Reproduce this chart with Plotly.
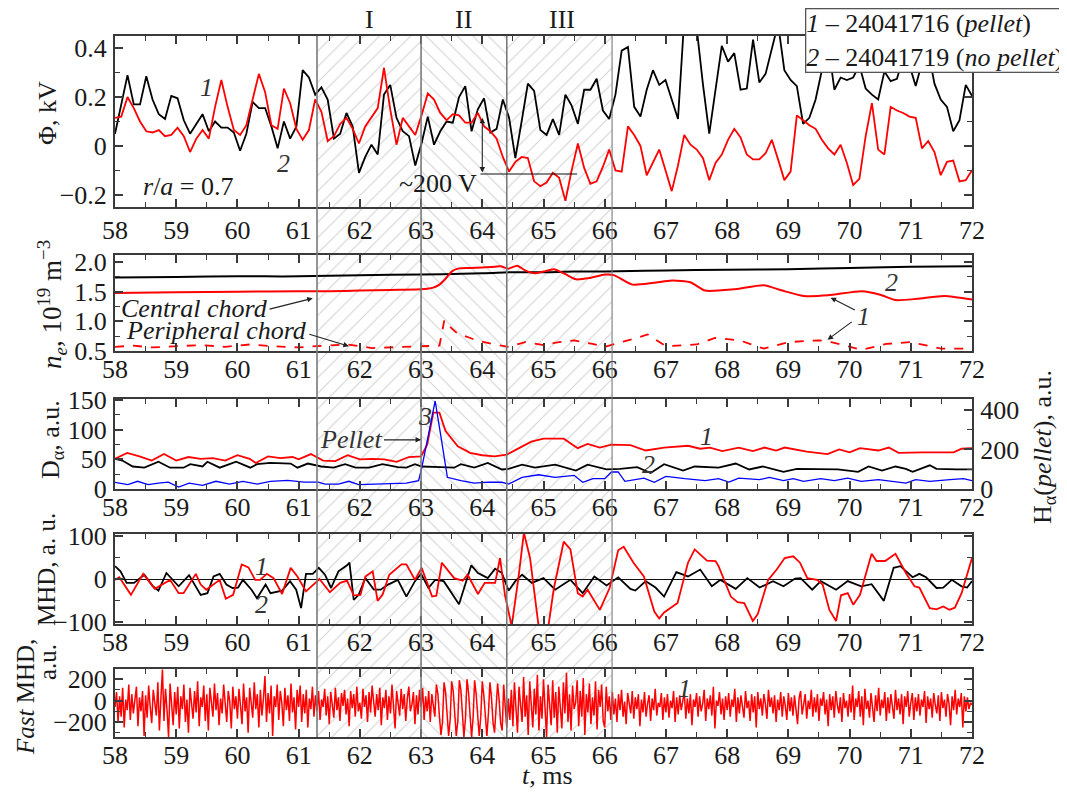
import numpy as np
import plotly.graph_objects as go

# ---------------- data ----------------
REGION_EDGES = [61.3, 63.0, 64.4, 66.12]
REGION_NAMES = ["I", "II", "III"]
REGION_LABEL_T = [62.15, 63.7, 65.3]
HATCH_SHAPES = ["/", "\\", "/"]
X_TICKS = [58, 72]

# Panel 1: plasma potential, kV (1 = pellet, red; 2 = no pellet, black)
PHI_PELLET = [
    0.115, 0.12, 0.20, 0.155, 0.10, 0.06, 0.055, 0.065, 0.04, 0.045,
    0.075, 0.04, -0.025, 0.03, 0.065, 0.03, 0.16, 0.27, 0.16, 0.065,
    0.045, 0.085, 0.19, 0.295, 0.22, 0.085, 0.07, 0.235, 0.175, 0.07,
    0.025, 0.065, 0.19, 0.14, 0.02, 0.04, 0.09, 0.115, 0.07, 0.01,
    0.08, 0.12, 0.155, 0.32, 0.15, 0.005, 0.115, 0.08, 0.045, 0.125,
    0.215, 0.19, 0.135, 0.105, 0.13, 0.125, 0.095, 0.095, 0.135, 0.08,
    0.06, 0.03, -0.045, -0.105, -0.065, -0.045, -0.05,
    -0.145, -0.165, -0.15, -0.11, -0.13, -0.225, -0.10, 0.01, -0.09, -0.155,
    -0.145, -0.085, -0.015, -0.10, -0.105, 0.08, 0.045, 0.0, -0.12, -0.065,
    -0.015, -0.10, -0.185, -0.08, 0.045, 0.005, -0.015, -0.05, -0.14, -0.07,
    -0.035, 0.025, 0.07, 0.035, -0.035, -0.055, -0.055, -0.03, 0.025, -0.055,
    -0.14, -0.105, 0.125, 0.105, 0.085, 0.07, 0.025, -0.01, -0.035, 0.005,
    -0.07, -0.16, -0.135, 0.04, 0.175, -0.015, -0.035, 0.16, 0.145, 0.135,
    0.12, 0.115, -0.01, 0.02, -0.025, -0.12, -0.065, -0.06, -0.145, -0.14,
    -0.10,
]
PHI_NOPELLET = [
    0.05, 0.17, 0.29, 0.17, 0.17, 0.285, 0.19, 0.13, 0.11, 0.205,
    0.195, 0.105, 0.05, 0.09, 0.13, 0.06, 0.10, 0.075, 0.075, 0.055,
    -0.02, 0.05, 0.18, 0.155, 0.155, 0.08, -0.01, 0.10, 0.03, 0.08,
    0.31, 0.28, 0.21, 0.24, 0.19, 0.03, 0.05, 0.135, 0.08, -0.11,
    -0.045, 0.005, -0.035, 0.21, 0.25, 0.115, 0.06, 0.04, -0.08, 0.01,
    0.12, 0.005, 0.06, 0.10, 0.095, 0.20, 0.245, 0.06, 0.15, 0.195,
    0.055, 0.07, 0.19, 0.115, -0.05, 0.10, 0.255,
    0.225, 0.065, 0.045, 0.11, 0.045, 0.21, 0.165, 0.09, 0.23, 0.23,
    0.275, 0.145, 0.11, 0.21, 0.39, 0.405, 0.16, 0.12, 0.23, 0.31,
    0.25, 0.27, 0.19, 0.11, 0.52, 0.62, 0.48, 0.25, 0.05, 0.23,
    0.41, 0.345, 0.38, 0.23, 0.235, 0.435, 0.26, 0.295, 0.39, 0.50,
    0.31, 0.27, 0.245, 0.09, 0.115, 0.19, 0.31, 0.42, 0.23, 0.28,
    0.27, 0.28, 0.33, 0.235, 0.21, 0.19, 0.305, 0.265, 0.275, 0.36,
    0.33, 0.245, 0.34, 0.39, 0.255, 0.19, 0.16, 0.06, 0.105, 0.25,
    0.205,
]

# Panel 2: line-averaged density, 1e19 m^-3
NE_NOPELLET_T = [58, 59, 60, 61, 62, 63, 64, 64.5, 65, 65.5, 66, 67, 68, 69, 70, 71, 72]
NE_NOPELLET = [1.74, 1.75, 1.76, 1.76, 1.78, 1.79, 1.81, 1.83, 1.83, 1.84, 1.84, 1.86, 1.87, 1.88, 1.90, 1.92, 1.93]
NE_CENTRAL_T = [58, 59, 60, 61, 61.5, 62, 62.5, 63, 63.1, 63.2, 63.3, 63.4, 63.5, 63.6, 63.8, 64.0,
                64.2, 64.3, 64.43, 64.57, 64.7, 64.86, 65.0, 65.17, 65.35, 65.53, 65.75, 66.0, 66.15,
                66.45, 66.8, 67.1, 67.4, 67.64, 68.1, 68.6, 68.9, 69.25, 69.65, 70.2, 70.5, 70.75,
                71.1, 71.55, 72.0]
NE_CENTRAL = [1.48, 1.49, 1.50, 1.51, 1.51, 1.52, 1.53, 1.54, 1.55, 1.57, 1.62, 1.72, 1.84, 1.89, 1.90, 1.91,
              1.92, 1.93, 1.89, 1.94, 1.86, 1.81, 1.84, 1.88, 1.80, 1.71, 1.73, 1.79, 1.78,
              1.62, 1.65, 1.69, 1.66, 1.52, 1.54, 1.61, 1.52, 1.43, 1.44, 1.51, 1.45, 1.36,
              1.38, 1.43, 1.37]
NE_PERIPH_T = [58, 58.3, 58.6, 59, 59.4, 59.8, 60.2, 60.6, 61, 61.4, 61.8, 62.2, 62.6, 63.0, 63.3, 63.38,
               63.5, 63.6, 63.75, 63.9, 64.15, 64.43, 64.7, 65.0, 65.2, 65.5, 65.8, 66.0, 66.3, 66.5,
               66.7, 67.0, 67.5, 67.8, 68.2, 68.6, 69.0, 69.5, 69.7, 70.2, 70.6, 71.0, 71.5, 72.0]
NE_PERIPH = [0.57, 0.59, 0.56, 0.58, 0.60, 0.57, 0.61, 0.58, 0.56, 0.59, 0.61, 0.55, 0.57, 0.58, 0.59, 1.02,
             0.88, 0.79, 0.74, 0.68, 0.62, 0.57, 0.65, 0.60, 0.64, 0.68, 0.62, 0.57, 0.66, 0.71,
             0.78, 0.58, 0.61, 0.72, 0.68, 0.54, 0.65, 0.68, 0.65, 0.52, 0.62, 0.65, 0.54, 0.54]

# Panel 3: D-alpha (1 pellet red, 2 no pellet black) and H-alpha pellet (3, blue, right axis)
DA_PELLET_T = [58.0, 58.2, 58.4, 58.6, 58.8, 59.0, 59.2, 59.4, 59.6, 59.8, 60.0, 60.2, 60.3, 60.5, 60.7,
               60.9, 61.0, 61.2, 61.4, 61.6, 61.8, 62.0, 62.2, 62.4, 62.6, 62.8, 63.0, 63.1, 63.2, 63.3,
               63.4, 63.6, 63.8, 64.0, 64.2, 64.4, 64.6, 64.8, 65.0, 65.14, 65.33, 65.56, 65.72, 65.92,
               66.11, 66.42, 66.67, 66.97, 67.36, 67.56, 67.72, 67.92, 68.19, 68.42, 68.61, 68.8, 68.94,
               69.3, 69.64, 69.83, 70.0, 70.17, 70.47, 70.64, 70.8, 71.2, 71.7, 71.83, 72.0]
DA_PELLET = [51, 61, 55, 48, 59, 48, 54, 51, 52, 48, 57, 51, 44, 55, 52,
             54, 50, 59, 48, 47, 57, 50, 51, 50, 46, 54, 55, 75, 129, 129,
             98, 72, 61, 57, 55, 58, 69, 80, 85, 85, 85, 69, 76, 70,
             75, 74, 65, 70, 73, 68, 70, 64, 70, 64, 70, 65, 70,
             63, 59, 67, 62, 69, 65, 70, 61, 62, 62, 68, 69]
DA_NOPELLET_T = [58.0, 58.12, 58.29, 58.48, 58.71, 58.9, 59.12, 59.23, 59.43, 59.51, 59.71, 59.98, 60.21,
                 60.32, 60.54, 60.87, 60.98, 61.15, 61.37, 61.57, 61.76, 61.93, 62.15, 62.37, 62.62, 62.76,
                 62.9, 63.01, 63.32, 63.54, 63.65, 63.87, 64.09, 64.32, 64.43, 64.65, 64.86, 65.19, 65.53,
                 65.72, 66.03, 66.25, 66.53, 66.75, 66.97, 67.28, 67.47, 67.86, 68.14, 68.36, 68.58, 68.92,
                 69.14, 69.47, 69.81, 70.14, 70.31, 70.53, 70.75, 70.92, 71.03, 71.31, 71.42, 71.75, 72.0]
DA_NOPELLET = [51, 48, 38, 36, 46, 36, 36, 42, 38, 46, 36, 46, 36,
               42, 44, 43, 36, 43, 38, 36, 42, 36, 36, 42, 37, 36,
               42, 38, 37, 36, 42, 36, 44, 33, 34, 41, 36, 41, 31,
               41, 33, 34, 37, 27, 42, 31, 38, 36, 43, 33, 38, 29,
               34, 33, 33, 29, 38, 31, 38, 34, 29, 40, 34, 33, 33]
HA_PELLET_T = [58.0, 58.21, 58.37, 58.54, 58.71, 58.87, 59.04, 59.21, 59.43, 59.65, 59.87, 60.09, 60.32,
               60.54, 60.82, 61.09, 61.32, 61.43, 61.65, 61.82, 61.98, 62.21, 62.48, 62.76, 62.96, 63.01,
               63.12, 63.23, 63.32, 63.43, 63.65, 63.87, 64.09, 64.32, 64.43, 64.65, 64.92, 65.19, 65.5,
               65.64, 65.81, 66.0, 66.11, 66.22, 66.33, 66.64, 66.81, 67.0, 67.31, 67.64, 67.86, 68.03,
               68.19, 68.53, 68.69, 68.92, 69.08, 69.25, 69.53, 69.75, 69.97, 70.19, 70.47, 70.69, 70.92,
               71.08, 71.31, 71.64, 71.86, 72.0]
HA_PELLET = [34, 22, 39, 22, 30, 35, 10, 30, 18, 39, 25, 39, 25,
             39, 44, 35, 35, 25, 25, 39, 22, 25, 30, 30, 42, 106,
             274, 445, 274, 59, 42, 30, 35, 34, 25, 59, 72, 59, 69,
             34, 52, 52, 86, 86, 39, 55, 34, 64, 52, 42, 52, 35,
             55, 47, 59, 42, 52, 39, 52, 42, 55, 39, 47, 39, 30,
             47, 39, 47, 52, 42]

# Panel 4: MHD (1 pellet red, 2 no pellet black)
MHD_PELLET_T = [58.0, 58.07, 58.26, 58.46, 58.65, 58.9, 59.04, 59.12, 59.32, 59.4, 59.49, 59.71, 59.81,
                59.93, 60.07, 60.18, 60.29, 60.37, 60.48, 60.59, 60.73, 60.87, 60.98, 61.12, 61.34, 61.51,
                61.68, 61.79, 61.9, 62.01, 62.09, 62.21, 62.29, 62.37, 62.48, 62.68, 62.76, 62.9, 63.01,
                63.18, 63.25, 63.34, 63.54, 63.68, 63.76, 63.93, 64.04, 64.21, 64.29, 64.37, 64.48, 64.59,
                64.68, 64.78, 64.92, 65.08, 65.17, 65.33, 65.44, 65.56, 65.64, 65.72, 65.92, 66.08, 66.22,
                66.31, 66.47, 66.64, 66.81, 66.89, 66.97, 67.19, 67.36, 67.47, 67.67, 67.81, 67.86, 68.06,
                68.17, 68.28, 68.42, 68.5, 68.67, 68.81, 68.94, 69.08, 69.19, 69.31, 69.47, 69.56, 69.67,
                69.78, 69.86, 69.97, 70.06, 70.17, 70.36, 70.44, 70.58, 70.75, 70.92, 71.06, 71.14, 71.31,
                71.42, 71.53, 71.63, 71.72, 71.83, 71.94, 72.0]
MHD_PELLET = [-2, 4, -37, 12, -23, -2, -33, -33, 12, -13, -25, -2, -46,
              -37, 34, 27, -2, -2, 12, 2, -35, 26, 6, -29, 0, -31,
              -9, -4, -38, -37, 6, 18, -51, -37, 10, 34, 34, -2, 26,
              -41, -39, 38, 2, -4, 10, -35, -9, -9, 49, -37, -110, 2,
              108, 49, -110, -110, -21, 87, 69, -33, -41, -25, -72, -21, 67,
              75, 38, 6, -76, -92, -78, -56, 38, 69, 43, 42, 30, -41,
              -54, -56, -98, -82, -2, 22, 49, 53, 38, 2, -2, -13, -72,
              -98, -38, -33, -60, -37, 59, 42, 42, 59, 14, -17, -20, -68,
              -71, -64, -72, -67, -33, 22, 49]
MHD_NOPELLET_T = [58.0, 58.09, 58.19, 58.31, 58.48, 58.62, 58.71, 58.84, 59.04, 59.21, 59.4, 59.51, 59.61,
                  59.71, 59.82, 59.92, 60.01, 60.09, 60.23, 60.32, 60.46, 60.54, 60.73, 60.86, 60.96, 61.04,
                  61.12, 61.23, 61.33, 61.43, 61.53, 61.65, 61.79, 61.83, 61.9, 61.98, 62.09, 62.23, 62.34,
                  62.46, 62.62, 62.76, 62.9, 63.0, 63.12, 63.23, 63.37, 63.62, 63.82, 63.93, 64.09, 64.21,
                  64.32, 64.43, 64.54, 64.65, 64.81, 65.0, 65.19, 65.44, 65.64, 65.83, 66.03, 66.22, 66.42,
                  66.5, 66.67, 66.83, 66.97, 67.17, 67.36, 67.56, 67.75, 67.89, 68.14, 68.33, 68.53, 68.75,
                  68.92, 69.11, 69.2, 69.39, 69.53, 69.78, 69.97, 70.19, 70.36, 70.56, 70.72, 70.83, 71.03,
                  71.14, 71.25, 71.42, 71.53, 71.67, 71.83, 71.92, 72.0]
MHD_NOPELLET = [30, 18, -9, -9, 10, -17, -27, 14, -17, 9, -37, -33, 6,
                12, -13, -21, -20, -2, -25, -45, -13, -33, -27, -5, -25, -68,
                12, 12, 26, 10, -21, 18, 32, 38, -49, -37, 2, -25, -25,
                -13, -2, -41, -5, 12, -21, -2, -5, -59, 32, 14, 2, 24,
                14, -27, -5, 10, -9, 2, -25, -2, -33, 6, -15, 4, -23,
                -27, -5, -20, -41, 16, 6, 22, -17, -2, -23, 2, -20, -5,
                -17, 1, 2, -25, -5, -25, -5, -17, -12, -51, 26, 30, 4,
                12, 4, -21, -20, -2, -17, -20, -5]

# Panel 5: fast MHD (pellet shot), 40 samples per ms, 58 ... 72 ms
FAST_MHD = [
    -60, 80, -200, 40, -150, 120, -250, 10, -90, 150, -180, 60, -120, -20, 130, -240, 30, -100, 90, -330,
    50, -160, 140, -60, -210, 100, -30, -140, 170, -280, 20, 290, -190, 110, -90, -340, 160, -50, -230, 80,
    -130, 130, -260, 40, -80, 150, -200, 10, -300, 120, -40, -170, 90, -110, 180, -240, 30, -60, 140, -190,
    60, -280, 120, -20, -150, 160, -90, 70, -230, 20, -120, 150, -60, -200, 90, -10, -260, 130, -80, 40,
    -170, 110, -50, -220, 160, -100, 30, -300, 120, -40, -160, 170, -80, 60, -250, 100, -140, 20, 230, -200,
    70, -120, 140, -330, 40, -60, 150, -180, 90, -20, -240, 120, -90, 50, -190, 160, -110, 30, -270, 100,
    -60, 140, -200, 60, -120, 100, -250, 20, -80, 130, -150, 50, -100, 90, -180, 10, -60, 110, -140, 40,
    -220, 80, -30, -160, 120, -90, 30, -190, 70, -50, 100, -130, 20, -240, 90, -70, 60, -150, 130, -100,
    -20, -170, 110, -60, 50, -200, 80, -110, 140, -30, -150, 60, -90, 120, -230, 30, -70, 100, -180, 40,
    -120, 150, -50, -260, 90, -10, -140, 110, -80, 60, -190, 20, 130, -100, -40, 80, -220, 50, -130, 100,
    -60, 120, -180, 40, -100, 90, -200, 60, -40, -150, 150, 60, -150, -320, -200, 170, 80, -160, -330, -180,
    180, 90, -150, -330, -190, 190, 100, -160, -340, -170, 200, 80, -170, -340, -160, 190, 60, -180, -330, -150,
    180, 50, -190, -330, -120, 170, 30, -200, -300, -80, 160, 10, -210, -280, 150, -60, -250, 20, -180, 100,
    -240, 170, -90, -300, 130, -30, -200, 220, -150, 50, -320, 180, -60, -250, 110, -130, 240, -280, 40, -170,
    200, -100, -340, 150, -20, -230, 190, -160, 80, -300, 130, -50, -260, 170, -120, 260, -200, 60, -280, 140,
    -80, -20, 190, -240, 90, -150, 210, -320, 60, -110, 160, -220, 30, -140, 180, -270, 100, -60, 150, -190,
    -250, 130, -100, 40, -180, 80, -130, 20, -200, 60, -90, 100, -150, -10, -220, 70, -40, -120, 90, -170,
    30, -80, 60, -240, 10, -110, 80, -150, -30, 50, -190, 20, -90, 110, -140, -20, -60, 70, -180, 30,
    -110, 60, -160, 0, -70, 90, -200, 30, -130, 50, -90, -20, 80, -170, 20, -120, 60, -230, 10, -60,
    70, -150, 40, -100, -30, 100, -190, 20, -80, 50, -140, 130, -260, 0, -50, 80, -130, 20, -180, 40,
    -90, 70, -150, 10, -60, 110, -200, 30, -120, 50, -40, -160, 90, -70, 0, -190, 60, -110, 40, -250,
    80, -80, 20, -140, 60, -30, -170, 100, -60, 30, -120, 50, -200, 10, -90, 80, -150, 40, -50, -180,
    70, -100, 30, -140, 50, -60, -220, 20, 90, -130, -20, 60, -170, 0, -80, 100, -150, 30, -110, 60,
    -190, 20, -50, 80, -130, 10, -240, 60, -90, 40, -160, 90, -40, -120, 30, -200, 70, -70, 0, -150,
    60, -110, 140, -180, 20, -60, 90, -150, 40, -230, 110, -80, 0, -160, 70, -40, -200, 50, -100, 120,
    -140, 10, -70, 80, -190, 30, -120, 60, -50, -170, 100, -90, 20, -130, 60, -220, 40, -60, 90, -150,
    -20, 70, -180, 30, -100, 60, -140, 10, -60, 90, -210, 40, -80, 20, -160, 70, -40, -120, 50, -190,
    80, -70, 10, -150, 60, -30, -230, 40, -90, 100, -130, 20, -60, 70, -250, 40, -100, 30, -80, -20,
    -40,
]

# ---------------- layout helpers ----------------
# The page body adds an 8 px offset, so the figure is drawn 8 px smaller and shifted.
OFF = 8
W, H = 1067 - OFF, 796 - 2 * OFF
ML, MT = 115 - OFF, 36 - OFF
MR = W - (972 - OFF)
MB = H - (737 - OFF)
PW, PH = 857, 701
FONT = "Liberation Serif"
RED, BLACK, BLUE = "#ff0000", "#000000", "#0000ff"
AX_COLOR = "#3a3a3a"
TXT = "#1a1a1a"
FS = 26


def fx(px):  # reference-pixel x -> paper
    return (px - 115) / PW


def fy(py):  # reference-pixel y -> paper
    return 1 - (py - 36) / PH


def dom(top, bottom):
    return [fy(bottom), fy(top)]


PANELS = [(36, 207), (255, 351), (399, 489), (534, 624), (669, 737)]

fig = go.Figure()

# hatched time windows on a full-height overlay axis
for a, b, shp in zip(REGION_EDGES[:-1], REGION_EDGES[1:], HATCH_SHAPES):
    fig.add_trace(go.Scatter(
        x=[a, b, b, a, a], y=[0, 0, 1, 1, 0], xaxis="x", yaxis="y",
        mode="lines", line=dict(width=0), fill="toself", fillcolor="rgba(0,0,0,0)",
        fillpattern=dict(shape=shp, fgcolor="#a6a6a6", bgcolor="rgba(0,0,0,0)", size=11, solidity=0.1),
        hoverinfo="skip", showlegend=False))

phi_t = np.linspace(X_TICKS[0], X_TICKS[1], len(PHI_PELLET))
fig.add_trace(go.Scatter(x=phi_t, y=PHI_NOPELLET, xaxis="x2", yaxis="y2", mode="lines",
                         line=dict(color=BLACK, width=1.8), showlegend=False))
fig.add_trace(go.Scatter(x=phi_t, y=PHI_PELLET, xaxis="x2", yaxis="y2", mode="lines",
                         line=dict(color=RED, width=1.8), showlegend=False))

fig.add_trace(go.Scatter(x=NE_NOPELLET_T, y=NE_NOPELLET, xaxis="x3", yaxis="y3", mode="lines",
                         line=dict(color=BLACK, width=2, shape="spline"), showlegend=False))
fig.add_trace(go.Scatter(x=NE_CENTRAL_T, y=NE_CENTRAL, xaxis="x3", yaxis="y3", mode="lines",
                         line=dict(color=RED, width=2, shape="spline", smoothing=0.6), showlegend=False))
fig.add_trace(go.Scatter(x=NE_PERIPH_T, y=NE_PERIPH, xaxis="x3", yaxis="y3", mode="lines",
                         line=dict(color=RED, width=1.8, dash="dash"), showlegend=False))

fig.add_trace(go.Scatter(x=HA_PELLET_T, y=HA_PELLET, xaxis="x4", yaxis="y5", mode="lines",
                         line=dict(color=BLUE, width=1.3), showlegend=False))
fig.add_trace(go.Scatter(x=DA_NOPELLET_T, y=DA_NOPELLET, xaxis="x4", yaxis="y4", mode="lines",
                         line=dict(color=BLACK, width=1.8), showlegend=False))
fig.add_trace(go.Scatter(x=DA_PELLET_T, y=DA_PELLET, xaxis="x4", yaxis="y4", mode="lines",
                         line=dict(color=RED, width=1.8), showlegend=False))

fig.add_trace(go.Scatter(x=MHD_NOPELLET_T, y=MHD_NOPELLET, xaxis="x5", yaxis="y6", mode="lines",
                         line=dict(color=BLACK, width=1.8), showlegend=False))
fig.add_trace(go.Scatter(x=MHD_PELLET_T, y=MHD_PELLET, xaxis="x5", yaxis="y6", mode="lines",
                         line=dict(color=RED, width=1.8), showlegend=False))

fast_t = np.linspace(X_TICKS[0], X_TICKS[1], len(FAST_MHD))
fig.add_trace(go.Scatter(x=fast_t, y=FAST_MHD, xaxis="x6", yaxis="y7", mode="lines",
                         line=dict(color=RED, width=1.5), showlegend=False))

tickfont = dict(family=FONT, size=FS, color=TXT)


def xax(anchor, standoff=-6):
    return dict(domain=[0, 1], anchor=anchor, range=[58, 72], tick0=58, dtick=1,
                ticks="inside", ticklen=8, tickwidth=1.5, tickcolor=AX_COLOR,
                minor=dict(dtick=0.5, ticks="inside", ticklen=5, tickwidth=1.2, tickcolor=AX_COLOR),
                showline=True, linecolor=AX_COLOR, linewidth=2, mirror="ticks",
                showgrid=False, zeroline=False, tickfont=tickfont, ticklabelstandoff=standoff)


def yax(anchor, d, rng, dtick, mdtick, **kw):
    base = dict(domain=d, anchor=anchor, range=rng, tick0=0, dtick=dtick,
                ticks="inside", ticklen=8, tickwidth=1.5, tickcolor=AX_COLOR,
                minor=dict(dtick=mdtick, ticks="inside", ticklen=5, tickwidth=1.2, tickcolor=AX_COLOR),
                showline=True, linecolor=AX_COLOR, linewidth=2, mirror="ticks",
                showgrid=False, zeroline=False, tickfont=tickfont, ticklabelstandoff=1)
    base.update(kw)
    return base


fig.update_layout(
    width=W, height=H, margin=dict(l=ML, r=MR, t=MT, b=MB, autoexpand=False),
    paper_bgcolor="white", plot_bgcolor="rgba(0,0,0,0)", showlegend=False,
    xaxis=dict(domain=[0, 1], range=[58, 72], visible=False, fixedrange=True, anchor="y"),
    yaxis=dict(domain=[0, 1], range=[0, 1], visible=False, fixedrange=True, anchor="x"),
    xaxis2=xax("y2", -1), xaxis3=xax("y3"), xaxis4=xax("y4"), xaxis5=xax("y6"), xaxis6=xax("y7"),
    yaxis2=yax("x2", dom(*PANELS[0]), [-0.25, 0.45], 0.2, 0.1),
    yaxis3=yax("x3", dom(*PANELS[1]), [0.5, 2.12], 0.5, 0.25, tickformat=".1f"),
    yaxis4=yax("x4", dom(*PANELS[2]), [0, 152], 50, 25, mirror=False),
    yaxis5=yax("x4", dom(*PANELS[2]), [0, 455], 200, 100, overlaying="y4", side="right", mirror=False),
    yaxis6=yax("x5", dom(*PANELS[3]), [-105, 105], 100, 50, zeroline=True, zerolinecolor="#111",
               zerolinewidth=1.2),
    yaxis7=yax("x6", dom(*PANELS[4]), [-340, 295], 200, 100),
)

# vertical boundaries of the windows
for i, e in enumerate(REGION_EDGES):
    fig.add_shape(type="line", xref="x", yref="y", x0=e, x1=e, y0=0, y1=1,
                  line=dict(color="#7a7a7a", width=1.6 if i < 3 else 1.1))

ann = []


def text(x, y, s, xref, yref, size=FS, color=TXT, **kw):
    d = dict(x=x, y=y, text=s, xref=xref, yref=yref, showarrow=False,
             xanchor="center", yanchor="middle",
             font=dict(family=FONT, size=size, color=color))
    d.update(kw)
    ann.append(d)


def arrow(x, y, ax, ay, xref, yref, **kw):
    d = dict(x=x, y=y, ax=ax, ay=ay, xref=xref, yref=yref, axref=xref, ayref=yref, text="",
             showarrow=True, arrowhead=2, arrowsize=1, arrowwidth=1.1, arrowcolor="#222")
    d.update(kw)
    ann.append(d)


for name, t in zip(REGION_NAMES, REGION_LABEL_T):
    text(t, fy(20), name, "x", "paper")

# legend box
text(fx(1065), fy(8), "<i>1</i> – 24041716 (<i>pellet</i>)<br><i>2</i> – 24041719 (<i>no pellet</i>)",
     "paper", "paper", size=26, xanchor="right", yanchor="top", align="left",
     bgcolor="white", bordercolor="#555", borderwidth=1.3, borderpad=0)

# panel 1
text(59.5, 0.24, "<i>1</i>", "x2", "y2", color="#333")
text(60.75, -0.07, "<i>2</i>", "x2", "y2", color="#333")
text(59.2, -0.165, "<i>r</i>/<i>a</i> = 0.7", "x2", "y2")
text(63.28, -0.152, "~200 V", "x2", "y2")
arrow(64.0, 0.115, 64.0, -0.115, "x2", "y2", arrowside="end+start")
fig.add_shape(type="line", xref="x2", yref="y2", x0=63.97, x1=65.55, y0=-0.115, y1=-0.115,
              line=dict(color="#111", width=1.2))

# panel 2
text(59.3, 1.21, "<i>Central chord</i>", "x3", "y3")
arrow(61.23, 1.39, 60.5, 1.2, "x3", "y3")
text(59.65, 0.84, "<i>Peripheral chord</i>", "x3", "y3")
arrow(61.82, 0.58, 61.15, 0.79, "x3", "y3")
text(70.69, 1.65, "<i>2</i>", "x3", "y3", color="#333")
text(70.22, 1.09, "<i>1</i>", "x3", "y3", color="#333")
arrow(69.69, 1.40, 70.11, 1.18, "x3", "y3")
arrow(69.64, 0.69, 70.06, 1.01, "x3", "y3")

# panel 3
text(61.85, 83, "<i>Pellet</i>", "x4", "y4", color="#333")
arrow(63.0, 83, 62.37, 83, "x4", "y4")
text(63.07, 122, "<i>3</i>", "x4", "y4", color="#333")
text(67.67, 89, "<i>1</i>", "x4", "y4", color="#333")
text(66.72, 41, "<i>2</i>", "x4", "y4", color="#333")

# panel 4
text(60.4, 30, "<i>1</i>", "x5", "y6", color="#333")
text(60.4, -60, "<i>2</i>", "x5", "y6", color="#333")

# panel 5
text(67.3, 110, "<i>1</i>", "x6", "y7", color="#333")

# axis titles
text(fx(48), fy(113), "Φ, kV", "paper", "paper", textangle=-90)
text(fx(52), fy(305), "<i>n<sub>e</sub></i>, 10<sup>19</sup> m<sup>−3</sup>", "paper", "paper",
     textangle=-90, size=27)
text(fx(52), fy(440), "D<sub>α</sub>, a.u.", "paper", "paper", textangle=-90)
text(fx(1044), fy(447), "H<sub>α</sub>(<i>pellet</i>), a.u.", "paper", "paper", textangle=-90)
text(fx(46), fy(570), "MHD, a. u.", "paper", "paper", textangle=-90, size=25)
text(fx(25), fy(697), "<i>Fast</i> MHD,", "paper", "paper", textangle=-90, size=25)
text(fx(47), fy(662), "a.u.", "paper", "paper", textangle=-90, size=25)
text(65.06, fy(776), "<i>t</i>, ms", "x", "paper")

fig.update_layout(annotations=ann)
fig.write_html("out.html")
